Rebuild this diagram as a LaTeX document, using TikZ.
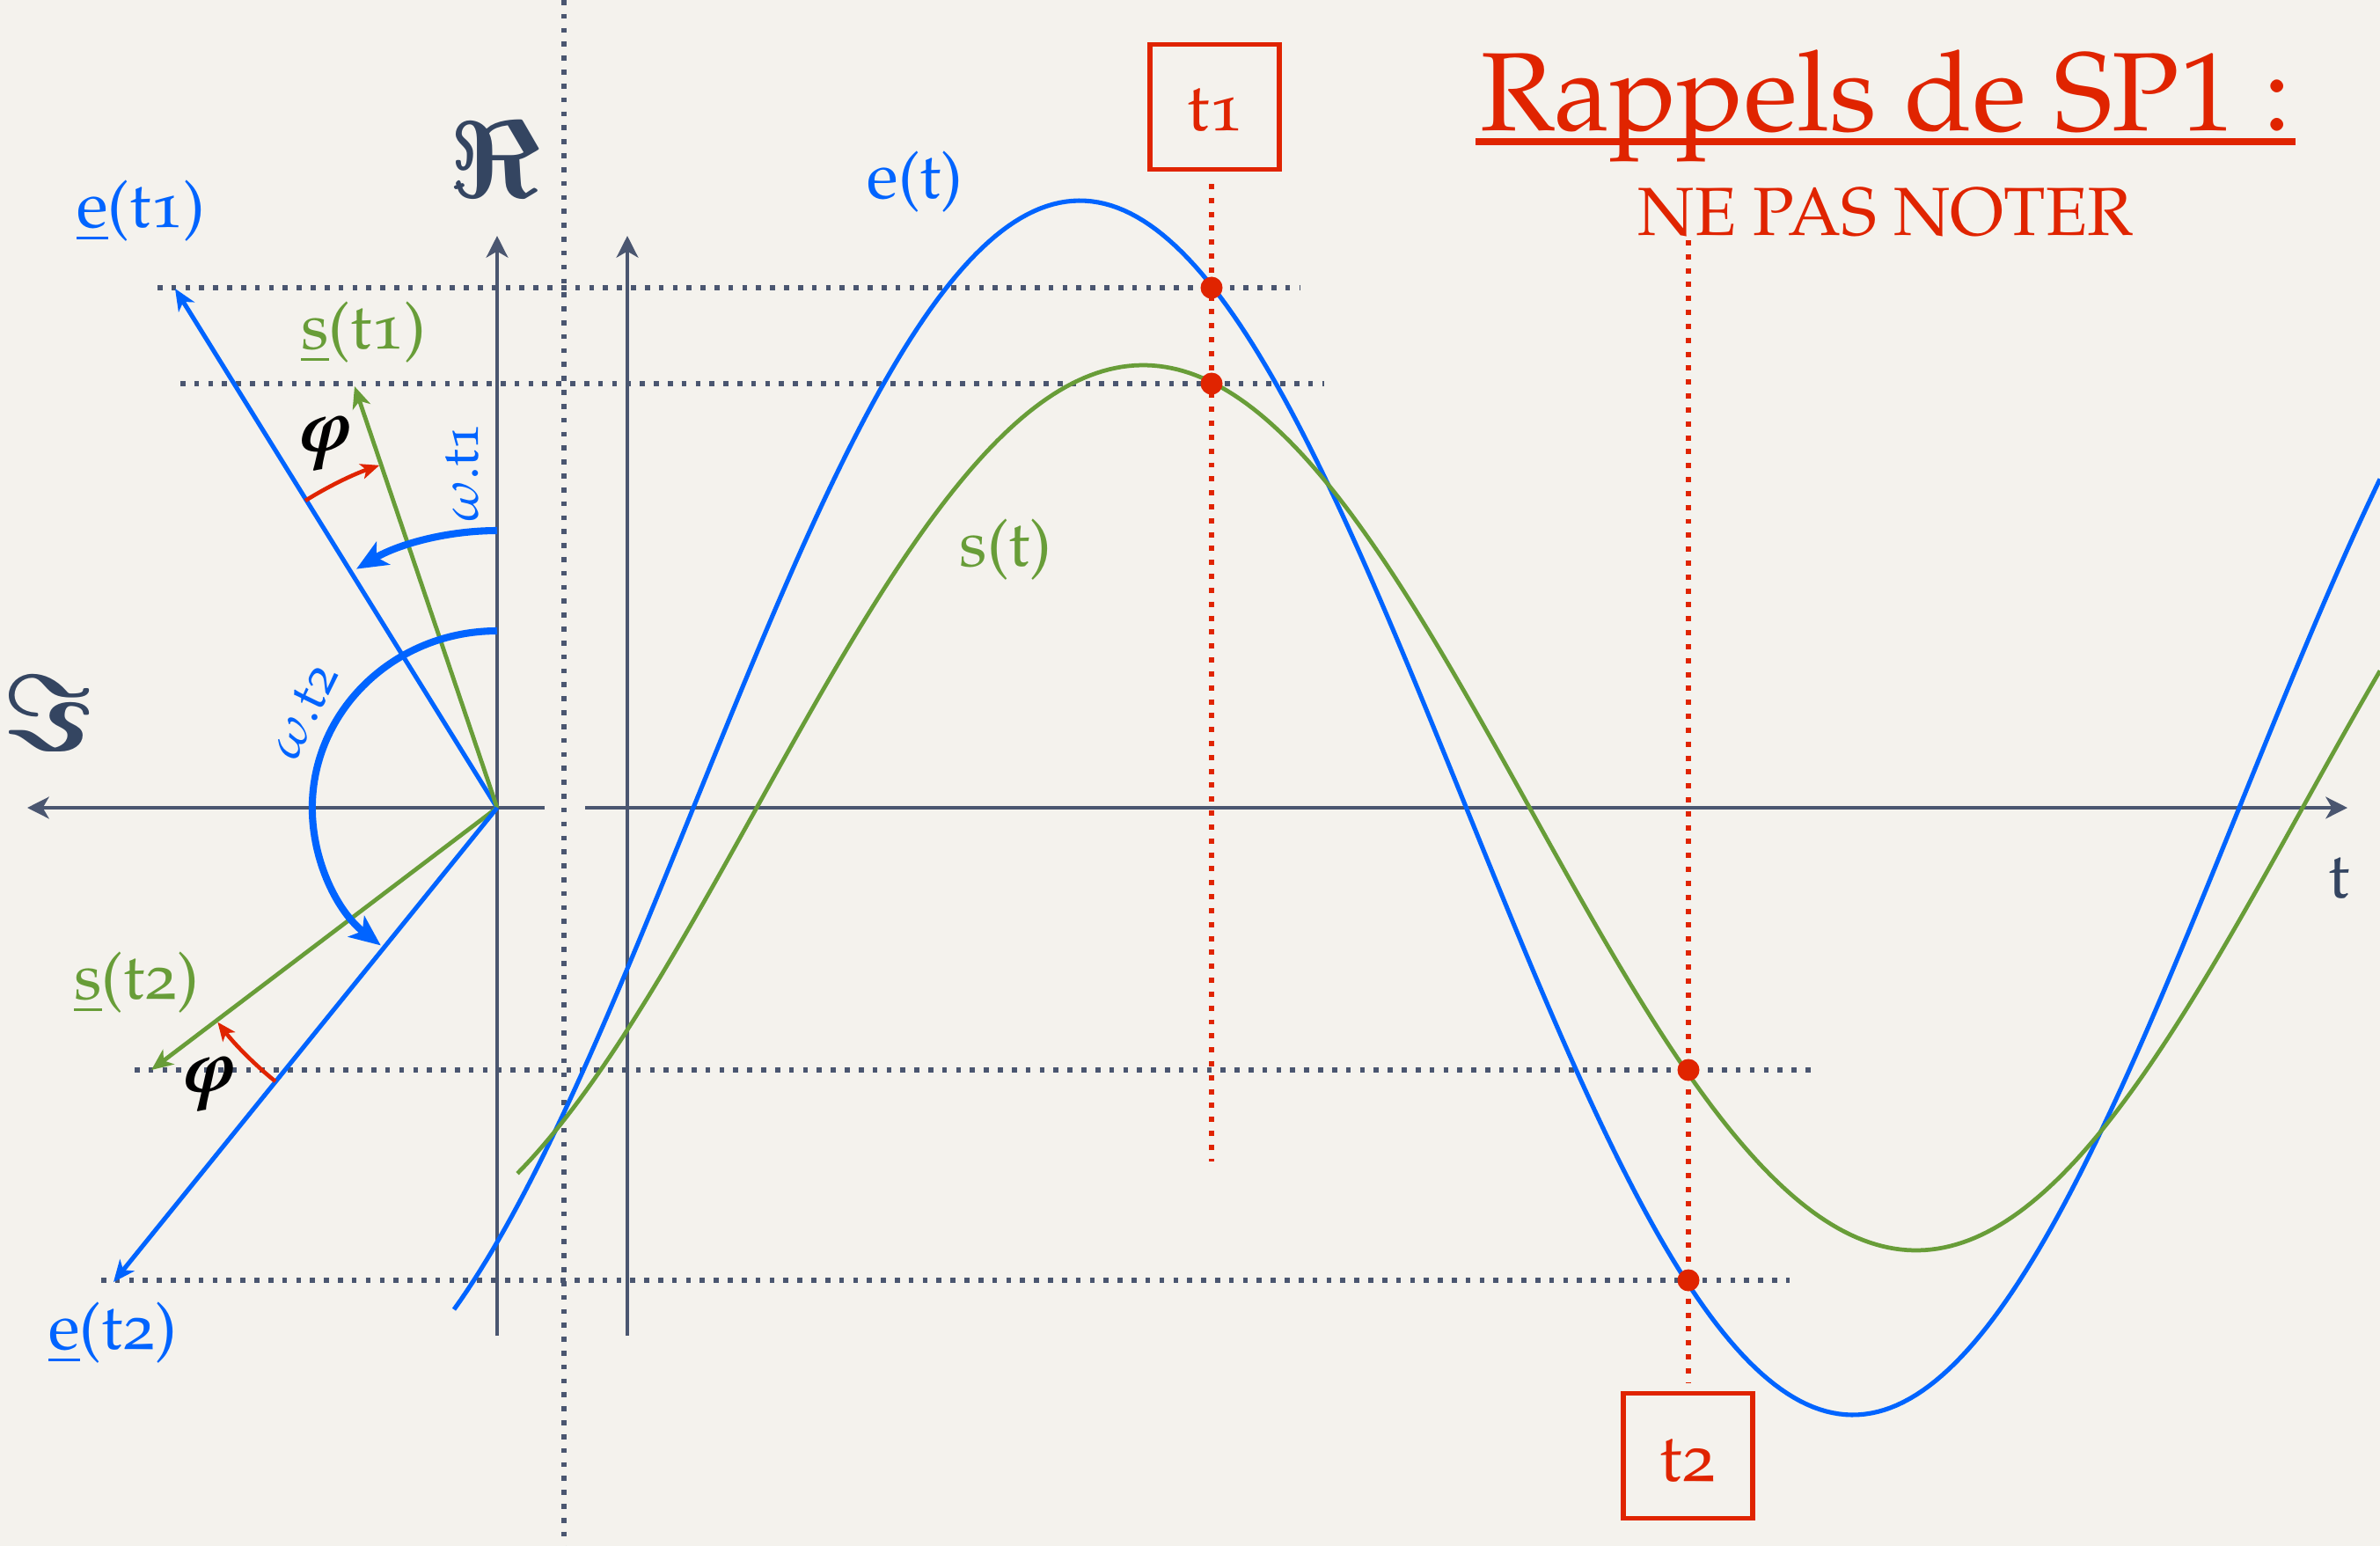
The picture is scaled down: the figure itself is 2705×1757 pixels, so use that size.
\documentclass[tikz,border=0pt]{standalone}
\usepackage[T1]{fontenc}
\usepackage{mathpazo}
\usepackage{amsmath}
\usepackage{graphicx}
\usetikzlibrary{arrows.meta}
\definecolor{bgc}{RGB}{244,242,237}
\definecolor{myblue}{RGB}{0,100,255}
\definecolor{mygreen}{RGB}{104,157,56}
\definecolor{myred}{RGB}{224,36,0}
\definecolor{slate}{RGB}{74,86,112}
\definecolor{txtslate}{RGB}{52,69,97}
\newcommand{\os}[1]{{\fontfamily{pplj}\selectfont #1}}
\newcommand{\fsz}[1]{\fontsize{#1}{#1}\selectfont}
\newcommand{\bigRe}{\scalebox{1.42}{\usefont{OMS}{cmsy}{b}{n}\char"3C}}
\newcommand{\bigIm}{\scalebox{1.42}{\usefont{OMS}{cmsy}{b}{n}\char"3D}}
\begin{document}
\begin{tikzpicture}[x=0.01cm,y=-0.01cm,
  axis/.style={slate,line width=1.35pt},
  axarrow/.style={axis,-{Stealth[length=7pt,width=7pt,inset=2pt]}},
  dotline/.style={slate,line width=1.6pt,dash pattern=on 1.6pt off 2.9pt},
  reddot/.style={myred,line width=1.6pt,dash pattern=on 1.7pt off 2.8pt},
  evec/.style={myblue,line width=1.45pt,-{Stealth[length=7pt,width=6pt,inset=2pt]}},
  svec/.style={mygreen,line width=1.35pt,-{Stealth[length=7pt,width=6pt,inset=2pt]}},
  omarc/.style={myblue,line width=2.3pt,-{Stealth[length=10pt,width=8.5pt,inset=2.5pt]}},
  phiarc/.style={myred,line width=1.3pt,-{Stealth[length=6pt,width=5pt,inset=1.5pt]}},
  lbl/.style={inner sep=0pt,font=\fsz{21}},
  tbox/.style={draw=myred,line width=1.5pt,minimum width=1.47cm,minimum height=1.42cm,inner sep=0pt},
  pt/.style={circle,fill=myred,inner sep=0pt,minimum size=0.25cm}
]
\fill[bgc] (0,0) rectangle (2705,1757);
\useasboundingbox (0,0) rectangle (2705,1757);

% coordinates
\coordinate (O) at (565,918);
\coordinate (ReTop) at (565,268);
\coordinate (ReBot) at (565,1518);
\coordinate (ImL) at (31,918);
\coordinate (ImR) at (619,918);
\coordinate (AxTop) at (713,268);
\coordinate (AxBot) at (713,1518);
\coordinate (TL) at (665,918);
\coordinate (TR) at (2668,918);
\coordinate (VTop) at (641,0);
\coordinate (VBot) at (641,1757);
\coordinate (E1) at (199,328);
\coordinate (S1) at (403,439);
\coordinate (S2) at (172,1216);
\coordinate (E2) at (129,1457);

% dotted separator
\draw[dotline] (VTop) -- (VBot);

% horizontal dotted projections
\coordinate (h1a) at (179,327); \coordinate (h1b) at (1478,327);
\coordinate (h2a) at (205,436); \coordinate (h2b) at (1505,436);
\coordinate (h3a) at (153,1216); \coordinate (h3b) at (2060,1216);
\coordinate (h4a) at (115,1455); \coordinate (h4b) at (2034,1455);
\draw[dotline] (h1a) -- (h1b);
\draw[dotline] (h2a) -- (h2b);
\draw[dotline] (h3a) -- (h3b);
\draw[dotline] (h4a) -- (h4b);

% axes
\draw[axarrow] (ReBot) -- (ReTop);
\draw[axarrow] (ImR) -- (ImL);
\draw[axarrow] (AxBot) -- (AxTop);
\draw[axarrow] (TL) -- (TR);

% time boxes and red dotted lines
\node[tbox] (t1box) at (1380.5,121.5) {};
\node[lbl,myred,font=\fsz{22}] (t1lbl) at (1381,125) {t\os{1}};
\node[tbox] (t2box) at (1918.5,1654.5) {};
\node[lbl,myred,font=\fsz{22}] (t2lbl) at (1918,1660) {t\os{2}};
\coordinate (r1a) at (1377,209); \coordinate (r1b) at (1377,1320);
\coordinate (r2a) at (1919,273); \coordinate (r2b) at (1919,1571);
\draw[reddot] (r1a) -- (r1b);
\draw[reddot] (r2a) -- (r2b);

% curves
\draw[myblue,line width=1.45pt] plot[domain=516:2705,samples=300] (\x,{918-690*sin((\x-788)*0.2048947)});
\draw[mygreen,line width=1.35pt] plot[domain=588:2705,samples=300] (\x,{918-503*sin((\x-860)*0.2048947)});

% phasors
\draw[evec] (O) -- (E1);
\draw[svec] (O) -- (S1);
\draw[svec] (O) -- (S2);
\draw[evec] (O) -- (E2);

% omega arcs
\draw[omarc] (565,603) arc[start angle=90,end angle=120.5,radius=3.15cm];
\draw[omarc] (565,717) arc[start angle=90,end angle=231,x radius=2.10cm,y radius=2.01cm];

% phi arcs
\draw[phiarc] (347,569) arc[start angle=122,end angle=109,radius=4.12cm];
\draw[phiarc] (313,1229) arc[start angle=231,end angle=217.5,radius=4.00cm];

% points
\node[pt] (p1) at (1377,327) {};
\node[pt] (p2) at (1377,436) {};
\node[pt] (p3) at (1919,1216) {};
\node[pt] (p4) at (1919,1455) {};

% labels
\node[lbl,txtslate,font=\fsz{38}] (relbl) at (562,181) {\bigRe};
\node[lbl,txtslate,font=\fsz{38}] (imlbl) at (54,810) {\bigIm};
\node[lbl,myblue] (le1) at (160,240) {\underline{e}(t\os{1})};
\node[lbl,mygreen] (ls1) at (413,378) {\underline{s}(t\os{1})};
\node[lbl,mygreen] (ls2) at (155,1117) {\underline{s}(t\os{2})};
\node[lbl,myblue] (le2) at (128,1515) {\underline{e}(t\os{2})};
\node[lbl,font=\fsz{24}] (phi1) at (371,504) {$\boldsymbol{\varphi}$};
\node[lbl,font=\fsz{24}] (phi2) at (239,1232) {$\boldsymbol{\varphi}$};
\node[lbl,myblue,font=\fsz{17},rotate=90] (om1) at (526,537) {$\omega$.t\os{1}};
\node[lbl,myblue,font=\fsz{17},rotate=64] (om2) at (345,808) {$\omega$.t\os{2}};
\node[lbl,myblue] (let) at (1040,207) {e(t)};
\node[lbl,mygreen] (lst) at (1143,625) {s(t)};
\node[lbl,txtslate] (ltt) at (2659,998) {t};

% title
\node[inner sep=0pt,anchor=base,myred,font=\fsz{36}] (title) at (2143,148) {Rappels de SP1 :};
\coordinate (ula) at (1677,161); \coordinate (ulb) at (2609,161);
\draw[myred,line width=2pt] (ula) -- (ulb);
\node[inner sep=0pt,anchor=base,myred,font=\fsz{22}] (sub) at (2143,267) {NE PAS NOTER};
\end{tikzpicture}
\end{document}
